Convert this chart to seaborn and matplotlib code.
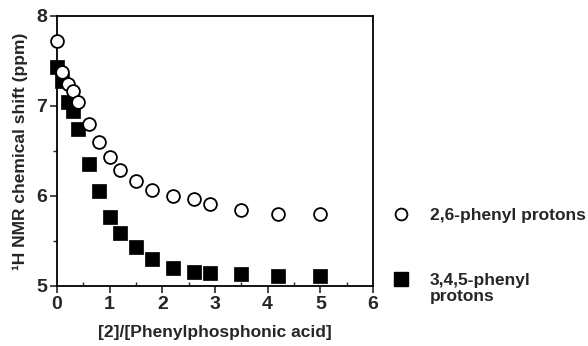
import matplotlib
matplotlib.use('Agg')
import matplotlib.pyplot as plt
from matplotlib.lines import Line2D
from matplotlib.text import Annotation
from matplotlib.ticker import MultipleLocator
import pandas as pd
import seaborn as sns

# ratio [2]/[phenylphosphonic acid]
ratio_26 = [0.0, 0.1, 0.2, 0.3, 0.4, 0.6, 0.8, 1.0, 1.2, 1.5, 1.8, 2.2, 2.6, 2.9, 3.5, 4.2, 5.0]
shift_26 = [7.72, 7.38, 7.25, 7.17, 7.04, 6.80, 6.60, 6.43, 6.29, 6.17, 6.07, 6.00, 5.97, 5.91, 5.85, 5.80, 5.80]

ratio_345 = [0.0, 0.1, 0.2, 0.3, 0.4, 0.6, 0.8, 1.0, 1.2, 1.5, 1.8, 2.2, 2.6, 2.9, 3.5, 4.2, 5.0]
shift_345 = [7.43, 7.28, 7.05, 6.94, 6.75, 6.36, 6.06, 5.77, 5.59, 5.43, 5.30, 5.20, 5.15, 5.14, 5.13, 5.11, 5.11]

labels = ['2,6-phenyl protons', '3,4,5-phenyl']
label_extra = 'protons'

sns.set_style('white')
plt.rcParams['font.family'] = ['Liberation Sans', 'DejaVu Sans']
plt.rcParams['font.weight'] = 'bold'

df = pd.DataFrame({
    'ratio': ratio_26 + ratio_345,
    'shift': shift_26 + shift_345,
    'group': [labels[0]] * len(ratio_26) + [labels[1]] * len(ratio_345),
})

fig = plt.figure(figsize=(5.88, 3.46), dpi=100)
ax = fig.add_axes([57 / 588, 60 / 346, 316 / 588, 270 / 346])

sns.scatterplot(data=df[df['group'] == labels[0]], x='ratio', y='shift', ax=ax,
                marker='o', s=85, facecolor='white', edgecolor='black', linewidth=1.3,
                legend=False, zorder=3, clip_on=False)
sns.scatterplot(data=df[df['group'] == labels[1]], x='ratio', y='shift', ax=ax,
                marker='s', s=110, color='black', edgecolor='black', linewidth=0.5,
                legend=False, zorder=2, clip_on=False)

ax.set_xlim(0, 6)
ax.set_ylim(5, 8)
ax.xaxis.set_major_locator(MultipleLocator(1))
ax.xaxis.set_minor_locator(MultipleLocator(0.5))
ax.yaxis.set_major_locator(MultipleLocator(1))
ax.yaxis.set_minor_locator(MultipleLocator(0.5))
ax.tick_params(which='major', direction='out', length=5, width=1.2, labelsize=14,
               bottom=True, left=True, pad=2)
ax.tick_params(axis='x', which='minor', direction='in', length=3, width=1, bottom=True)
ax.tick_params(axis='y', which='minor', direction='out', length=3, width=1, left=True)
for lbl in ax.get_xticklabels() + ax.get_yticklabels():
    lbl.set_fontweight('bold')
for sp in ax.spines.values():
    sp.set_color('black')
    sp.set_linewidth(1.3)

ax.set_xlabel('[2]/[Phenylphosphonic acid]', fontsize=12.5, fontweight='bold', labelpad=9)
ax.set_ylabel('¹H NMR chemical shift (ppm)', fontsize=12.5, fontweight='bold', labelpad=6)

handles = [
    Line2D([], [], marker='o', linestyle='', markersize=8.5, markerfacecolor='white',
           markeredgecolor='black', markeredgewidth=1.3),
    Line2D([], [], marker='s', linestyle='', markersize=9.5, markerfacecolor='black',
           markeredgecolor='black'),
]
leg = fig.legend(handles, labels, loc='upper left', bbox_to_anchor=(384 / 588, 1 - 201 / 346),
                 frameon=False, prop={'size': 12.5, 'weight': 'bold'}, labelspacing=2.85,
                 handletextpad=1.05, handlelength=1.2, borderaxespad=0)
# second line of the second legend label, hung under its first line
extra = Annotation(label_extra, xy=(0, 0), xycoords=leg.get_texts()[1], xytext=(0, -1),
                   textcoords='offset points', ha='left', va='top',
                   fontsize=12.5, fontweight='bold', zorder=10)
fig.add_artist(extra)

fig.savefig('out.png', dpi=100)
